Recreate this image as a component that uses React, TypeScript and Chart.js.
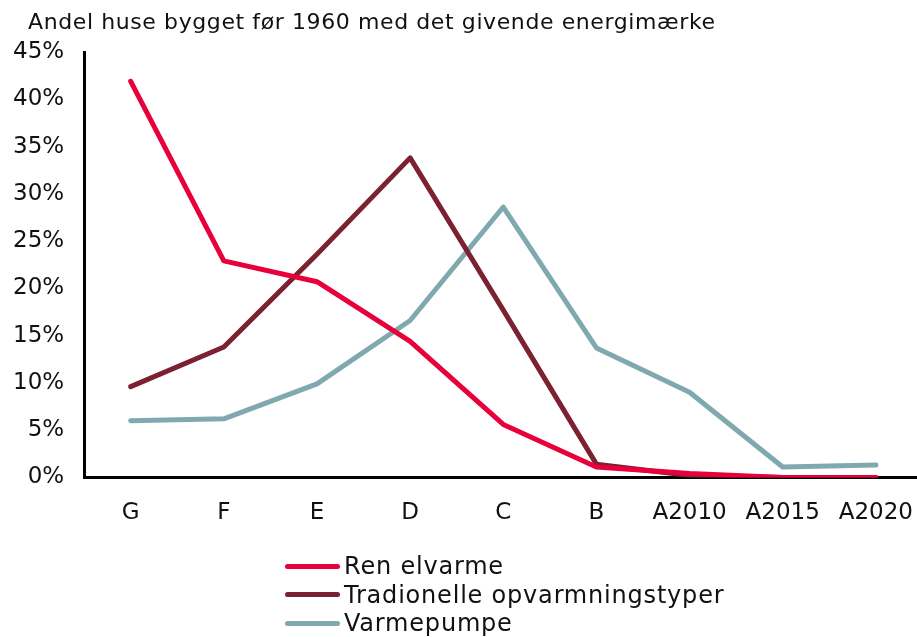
import React, { useEffect, useRef } from "react";
import { Chart, registerables } from "chart.js";

Chart.register(...registerables);

const categories = ["G", "F", "E", "D", "C", "B", "A2010", "A2015", "A2020"];
const renElvarme = [41.9, 22.9, 20.7, 14.4, 5.6, 1.1, 0.4, 0.0, 0.0];
const traditionelle = [9.6, 13.8, 23.6, 33.8, 17.7, 1.4, 0.2, 0.0, 0.0];
const varmepumpe = [6.0, 6.2, 9.9, 16.6, 28.6, 13.7, 9.0, 1.1, 1.3];
const seriesNames = ["Ren elvarme", "Tradionelle opvarmningstyper", "Varmepumpe"];
const seriesColors = ["#E8003A", "#7C2131", "#7FA9AF"];
const titleText = "Andel huse bygget før 1960 med det givende energimærke";

const FONT = "'DejaVu Sans', sans-serif";

export default function App() {
  const ref = useRef<HTMLCanvasElement>(null);
  useEffect(() => {
    if (!ref.current) return;
    const data = [renElvarme, traditionelle, varmepumpe];
    const chart = new Chart(ref.current, {
      type: "line",
      data: {
        labels: categories,
        datasets: data.map((d, i) => ({
          label: seriesNames[i],
          data: d,
          borderColor: seriesColors[i],
          backgroundColor: seriesColors[i],
          borderWidth: 5,
          pointRadius: 0,
          tension: 0,
          borderCapStyle: "round" as const,
          borderJoinStyle: "round" as const,
        })),
      },
      options: {
        animation: false,
        responsive: false,
        maintainAspectRatio: false,
        layout: { padding: { left: 10, right: 0, top: 52, bottom: 15 } },
        plugins: {
          legend: { display: false },
          tooltip: { enabled: false },
          title: { display: false },
        },
        scales: {
          x: {
            offset: true,
            grid: { display: false, drawTicks: false },
            border: { display: true, color: "#000", width: 3 },
            ticks: {
              color: "#111",
              font: { family: FONT, size: 23 },
              padding: 22,
              maxRotation: 0,
              autoSkip: false,
            },
          },
          y: {
            min: 0,
            max: 45,
            grid: { display: false, drawTicks: false },
            border: { display: true, color: "#000", width: 3 },
            ticks: {
              stepSize: 5,
              color: "#111",
              font: { family: FONT, size: 23 },
              padding: 20,
              callback: (v: any) => v + "%",
            },
          },
        },
      },
    });
    return () => chart.destroy();
  }, []);

  return (
    <div style={{ position: "fixed", left: 0, top: 0, width: 917, height: 637, background: "#fff", overflow: "hidden" }}>
      <canvas ref={ref} width={952} height={564} style={{ display: "block", position: "absolute", left: -17, top: 0 }} />
      <div style={{ position: "absolute", left: 28, top: 8, fontFamily: FONT, fontSize: 22, letterSpacing: 0.6, color: "#111", lineHeight: "28px", whiteSpace: "nowrap" }}>
        {titleText}
      </div>
      <div style={{ position: "absolute", left: 285, top: 552, fontFamily: FONT, fontSize: 24, letterSpacing: 0.8, color: "#111" }}>
        {seriesNames.map((n, i) => (
          <div key={n} style={{ display: "flex", alignItems: "center", height: 28.5, lineHeight: "28px" }}>
            <span style={{ display: "inline-block", width: 55, height: 5, borderRadius: 3, background: seriesColors[i], marginRight: 4 }} />
            <span>{n}</span>
          </div>
        ))}
      </div>
    </div>
  );
}
